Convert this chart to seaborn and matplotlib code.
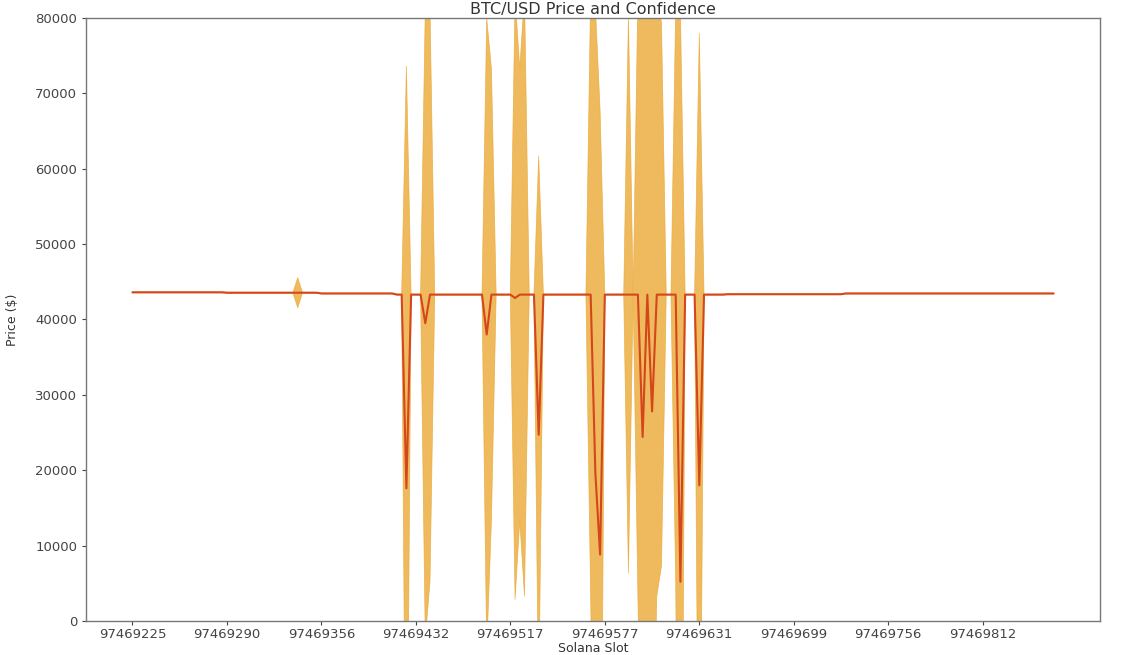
import matplotlib
matplotlib.use("Agg")
import matplotlib.pyplot as plt
import numpy as np
import pandas as pd
import seaborn as sns

# BTC/USD price per sampled slot (index along the x axis)
price = [
    43600, 43600, 43600, 43600, 43600, 43600, 43600, 43600, 43600, 43600,  # 0
    43600, 43600, 43600, 43600, 43600, 43600, 43600, 43600, 43600, 43600,  # 10
    43550, 43550, 43550, 43550, 43550, 43550, 43550, 43550, 43550, 43550,  # 20
    43550, 43550, 43550, 43550, 43550, 43550, 43550, 43550, 43550, 43550,  # 30
    43450, 43450, 43450, 43450, 43450, 43450, 43450, 43450, 43450, 43450,  # 40
    43450, 43450, 43450, 43450, 43450, 43450, 43300, 43300, 17600, 43300,  # 50
    43300, 43300, 39500, 43300, 43300, 43300, 43300, 43300, 43300, 43300,  # 60
    43300, 43300, 43300, 43300, 43300, 38000, 43300, 43300, 43300, 43300,  # 70
    43300, 42850, 43300, 43300, 43300, 43300, 24700, 43300, 43300, 43300,  # 80
    43300, 43300, 43300, 43300, 43300, 43300, 43300, 43300, 19600, 8800,   # 90
    43300, 43300, 43300, 43300, 43300, 43300, 43300, 43300, 24400, 43300,  # 100
    27800, 43300, 43300, 43300, 43300, 43300, 5200, 43300, 43300, 43300,   # 110
    18000, 43300, 43300, 43300, 43300, 43300, 43350, 43350, 43350, 43350,  # 120
    43350, 43350, 43350, 43350, 43350, 43350, 43350, 43350, 43350, 43350,  # 130
    43350, 43350, 43350, 43350, 43350, 43350, 43350, 43350, 43350, 43350,  # 140
    43350, 43450, 43450, 43450, 43450, 43450, 43450, 43450, 43450, 43450,  # 150
    43450, 43450, 43450, 43450, 43450, 43450, 43450, 43450, 43450, 43450,  # 160
    43450, 43450, 43450, 43450, 43450, 43450, 43450, 43450, 43450, 43450,  # 170
    43450, 43450, 43450, 43450, 43450, 43450, 43450, 43450, 43450, 43450,  # 180
    43450, 43450, 43450, 43450, 43450, 43450,                              # 190
]

# confidence interval (+/-) for each sample
conf = [
    60, 60, 60, 60, 60, 60, 60, 60, 60, 60,                                 # 0
    60, 60, 60, 60, 60, 60, 60, 60, 60, 60,                                 # 10
    60, 60, 60, 60, 60, 60, 60, 60, 60, 60,                                 # 20
    60, 60, 60, 60, 60, 2000, 60, 60, 60, 60,                               # 30
    60, 60, 60, 60, 60, 60, 60, 60, 60, 60,                                 # 40
    60, 60, 60, 60, 60, 60, 60, 60, 56000, 60,                              # 50
    60, 60, 42000, 38000, 60, 60, 60, 60, 60, 60,                           # 60
    60, 60, 60, 60, 60, 42000, 30000, 60, 60, 60,                           # 70
    60, 40000, 30000, 40000, 60, 60, 37000, 60, 60, 60,                     # 80
    60, 60, 60, 60, 60, 60, 60, 40000, 62000, 59000,                        # 90
    60, 60, 60, 60, 60, 37000, 60, 40000, 60000, 45000,                     # 100
    55000, 40000, 36000, 60, 60, 38000, 76000, 60, 60, 60,                  # 110
    60000, 60, 60, 60, 60, 60, 60, 60, 60, 60,                              # 120
    60, 60, 60, 60, 60, 60, 60, 60, 60, 60,                                 # 130
    60, 60, 60, 60, 60, 60, 60, 60, 60, 60,                                 # 140
    60, 60, 60, 60, 60, 60, 60, 60, 60, 60,                                 # 150
    60, 60, 60, 60, 60, 60, 60, 60, 60, 60,                                 # 160
    60, 60, 60, 60, 60, 60, 60, 60, 60, 60,                                 # 170
    60, 60, 60, 60, 60, 60, 60, 60, 60, 60,                                 # 180
    60, 60, 60, 60, 60, 60,                                                 # 190
]

# every 20th sample gets a slot label
slot_labels = ["97469225", "97469290", "97469356", "97469432", "97469517",
               "97469577", "97469631", "97469699", "97469756", "97469812"]
label_every = 20

df = pd.DataFrame({"price": price, "conf": conf})
df["idx"] = np.arange(len(df))
df["low"] = df["price"] - df["conf"]
df["high"] = df["price"] + df["conf"]

sns.set_style("ticks")
plt.rcParams["font.family"] = ["DejaVu Sans"]

fig, ax = plt.subplots(figsize=(11.21, 6.55), dpi=100)
fig.subplots_adjust(left=0.077, right=0.981, bottom=0.052, top=0.9725)

ax.fill_between(df["idx"], df["low"], df["high"], color="#eaa328",
                alpha=0.75, linewidth=0.5, zorder=1)
sns.lineplot(data=df, x="idx", y="price", color="#d4461c", linewidth=1.5,
             ax=ax, zorder=2)

ax.set_ylim(0, 80000)
ax.set_xticks([i * label_every for i in range(len(slot_labels))])
ax.set_xticklabels(slot_labels)

ax.set_title("BTC/USD Price and Confidence", fontsize=11.5, color="#333333", pad=3)
ax.set_xlabel("Solana Slot", fontsize=9, color="#333333", labelpad=1)
ax.set_ylabel("Price ($)", fontsize=9, color="#333333", labelpad=12)

ax.tick_params(axis="both", labelsize=9.5, colors="#444444", length=3, width=0.8)
ax.tick_params(axis="x", pad=2)
for sp in ax.spines.values():
    sp.set_color("#777777")
    sp.set_linewidth(1.0)

fig.savefig("out.png", dpi=100)
